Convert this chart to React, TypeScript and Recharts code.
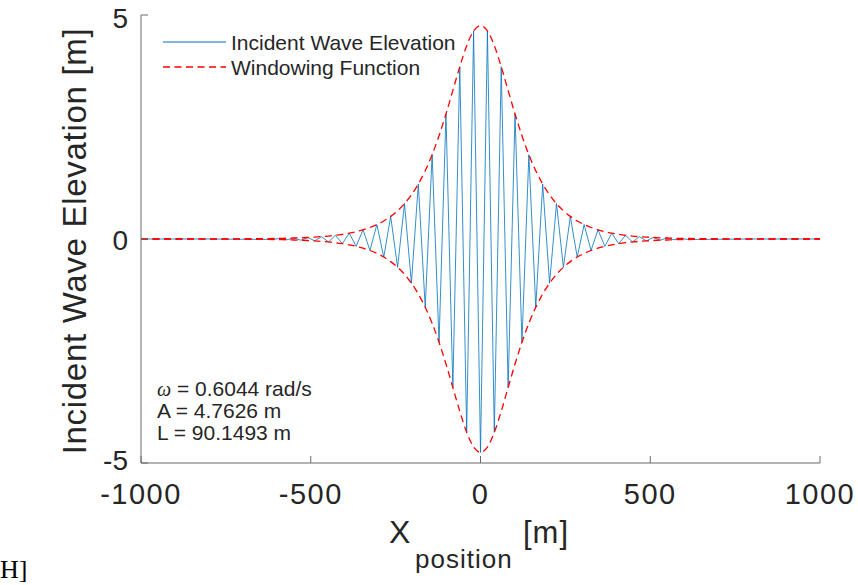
import { LineChart, Line, XAxis, YAxis } from 'recharts'

// values (crests / troughs of the wave and the envelope)
const xPosition = [
  -1000, -800, -610.5, -590.15, -569.8, -549.45, -529.1, -508.75, -488.4, -468.05,
  -447.7, -427.35, -407, -386.65, -366.3, -345.95, -325.6, -305.25, -284.9, -264.55,
  -244.2, -223.85, -203.5, -183.15, -162.8, -142.45, -122.1, -101.75, -81.4, -61.05,
  -40.7, -20.35, 0, 20.35, 40.7, 61.05, 81.4, 101.75, 122.1, 142.45,
  162.8, 183.15, 203.5, 223.85, 244.2, 264.55, 284.9, 305.25, 325.6, 345.95,
  366.3, 386.65, 407, 427.35, 447.7, 468.05, 488.4, 508.75, 529.1, 549.45,
  569.8, 590.15, 610.5, 800, 1000,
]

const waveElevation = [
  0, 0, -0.011, 0.014, -0.017, 0.022, -0.027, 0.034, -0.042, 0.053,
  -0.066, 0.083, -0.104, 0.131, -0.164, 0.205, -0.257, 0.322, -0.403, 0.505,
  -0.632, 0.79, -0.986, 1.228, -1.524, 1.882, -2.305, 2.789, -3.316, 3.846,
  -4.315, 4.644, -4.763, 4.644, -4.315, 3.846, -3.316, 2.789, -2.305, 1.882,
  -1.524, 1.228, -0.986, 0.79, -0.632, 0.505, -0.403, 0.322, -0.257, 0.205,
  -0.164, 0.131, -0.104, 0.083, -0.066, 0.053, -0.042, 0.034, -0.027, 0.022,
  -0.017, 0.014, -0.011, 0, 0,
]

const windowUpper = [
  0, 0.001, 0.011, 0.014, 0.017, 0.022, 0.027, 0.034, 0.042, 0.053,
  0.066, 0.083, 0.104, 0.131, 0.164, 0.205, 0.257, 0.322, 0.403, 0.505,
  0.632, 0.79, 0.986, 1.228, 1.524, 1.882, 2.305, 2.789, 3.316, 3.846,
  4.315, 4.644, 4.763, 4.644, 4.315, 3.846, 3.316, 2.789, 2.305, 1.882,
  1.524, 1.228, 0.986, 0.79, 0.632, 0.505, 0.403, 0.322, 0.257, 0.205,
  0.164, 0.131, 0.104, 0.083, 0.066, 0.053, 0.042, 0.034, 0.027, 0.022,
  0.017, 0.014, 0.011, 0.001, 0,
]

const windowLower = [
  0, -0.001, -0.011, -0.014, -0.017, -0.022, -0.027, -0.034, -0.042, -0.053,
  -0.066, -0.083, -0.104, -0.131, -0.164, -0.205, -0.257, -0.322, -0.403, -0.505,
  -0.632, -0.79, -0.986, -1.228, -1.524, -1.882, -2.305, -2.789, -3.316, -3.846,
  -4.315, -4.644, -4.763, -4.644, -4.315, -3.846, -3.316, -2.789, -2.305, -1.882,
  -1.524, -1.228, -0.986, -0.79, -0.632, -0.505, -0.403, -0.322, -0.257, -0.205,
  -0.164, -0.131, -0.104, -0.083, -0.066, -0.053, -0.042, -0.034, -0.027, -0.022,
  -0.017, -0.014, -0.011, -0.001, 0,
]

const xTicks = [-1000, -500, 0, 500, 1000]
const yTicks = [-5, 0, 5]
const seriesNames = ['Incident Wave Elevation', 'Windowing Function']
const paramLines = [' = 0.6044 rad/s', 'A = 4.7626 m', 'L = 90.1493 m']

const data = xPosition.map((x, i) => ({
  x,
  wave: waveElevation[i],
  upper: windowUpper[i],
  lower: windowLower[i],
}))

const AXIS = '#6a6a6a'
const INK = '#262626'
const BLUE = '#0072BD'
const RED = '#FF0000'
const DASH = '7 4.5'
const FONT = '"Liberation Sans", Arial, Helvetica, sans-serif'

function XTick({ x, y, payload }: any) {
  return (
    <g>
      <line x1={x} y1={y} x2={x} y2={y - 7} stroke={AXIS} />
      <text x={x} y={y + 41} textAnchor="middle" fontSize={29} letterSpacing={1.5} fill={INK} fontFamily={FONT}>
        {payload.value}
      </text>
    </g>
  )
}

function YTick({ x, y, payload }: any) {
  const shift = payload.value === 5 ? 13 : payload.value === 0 ? 10.5 : 7
  return (
    <g>
      <line x1={x} y1={y} x2={x + 7} y2={y} stroke={AXIS} />
      <text x={x - 13} y={y + shift} textAnchor="end" fontSize={28} fill={INK} fontFamily={FONT}>
        {payload.value}
      </text>
    </g>
  )
}

export default function App() {
  return (
    <div style={{ position: 'absolute', left: 0, top: 0, width: 858, height: 585, background: '#fff' }}>
      <LineChart
        width={858}
        height={585}
        data={data}
        margin={{ top: 15, right: 38, bottom: 121, left: 140 }}
      >
        <XAxis
          dataKey="x"
          type="number"
          domain={[-1000, 1000]}
          ticks={xTicks}
          height={1}
          tickSize={0}
          tickMargin={0}
          tickLine={false}
          axisLine={{ stroke: AXIS }}
          tick={(p: any) => <XTick {...p} />}
          interval={0}
          allowDataOverflow
        />
        <YAxis
          type="number"
          domain={[-5, 5]}
          ticks={yTicks}
          width={1}
          tickSize={0}
          tickMargin={0}
          tickLine={false}
          axisLine={{ stroke: AXIS }}
          tick={(p: any) => <YTick {...p} />}
          interval={0}
          allowDataOverflow
        />
        <Line dataKey="wave" type="linear" stroke={BLUE} strokeWidth={0.8} dot={false} isAnimationActive={false} />
        <Line dataKey="upper" type="monotone" stroke={RED} strokeWidth={1.3} strokeDasharray={DASH} dot={false} isAnimationActive={false} />
        <Line dataKey="lower" type="monotone" stroke={RED} strokeWidth={1.3} strokeDasharray={DASH} dot={false} isAnimationActive={false} />
      </LineChart>

      <svg
        width={858}
        height={585}
        style={{ position: 'absolute', left: 0, top: 0, pointerEvents: 'none' }}
        fontFamily={FONT}
      >
        {/* legend */}
        <line x1={163} y1={42} x2={226} y2={42} stroke={BLUE} strokeWidth={1} />
        <text x={231} y={50} fontSize={21} fill={INK}>{seriesNames[0]}</text>
        <line x1={163} y1={67} x2={226} y2={67} stroke={RED} strokeWidth={1.3} strokeDasharray={DASH} />
        <text x={231} y={75} fontSize={21} fill={INK}>{seriesNames[1]}</text>

        {/* parameters */}
        <text x={157} y={396} fontSize={21} fill={INK}>
          <tspan fontFamily='"Liberation Serif", serif' fontStyle="italic" fontSize={20}>ω</tspan>
          {paramLines[0]}
        </text>
        <text x={157} y={418} fontSize={21} fill={INK}>{paramLines[1]}</text>
        <text x={157} y={440} fontSize={21} fill={INK}>{paramLines[2]}</text>

        {/* axis titles */}
        <text
          x={86}
          y={241}
          transform="rotate(-90, 86, 241)"
          textAnchor="middle"
          fontSize={33}
          letterSpacing={0.7}
          fill={INK}
        >
          Incident Wave Elevation [m]
        </text>
        <text x={389} y={543} fontSize={32} fill={INK}>X</text>
        <text x={415} y={568} fontSize={26} letterSpacing={1} fill={INK}>position</text>
        <text x={523} y={543} fontSize={31} letterSpacing={1} fill={INK}>[m]</text>

        <text x={0} y={578} fontSize={26} fontFamily='"Liberation Serif", serif' fill="#000">H]</text>
      </svg>
    </div>
  )
}
